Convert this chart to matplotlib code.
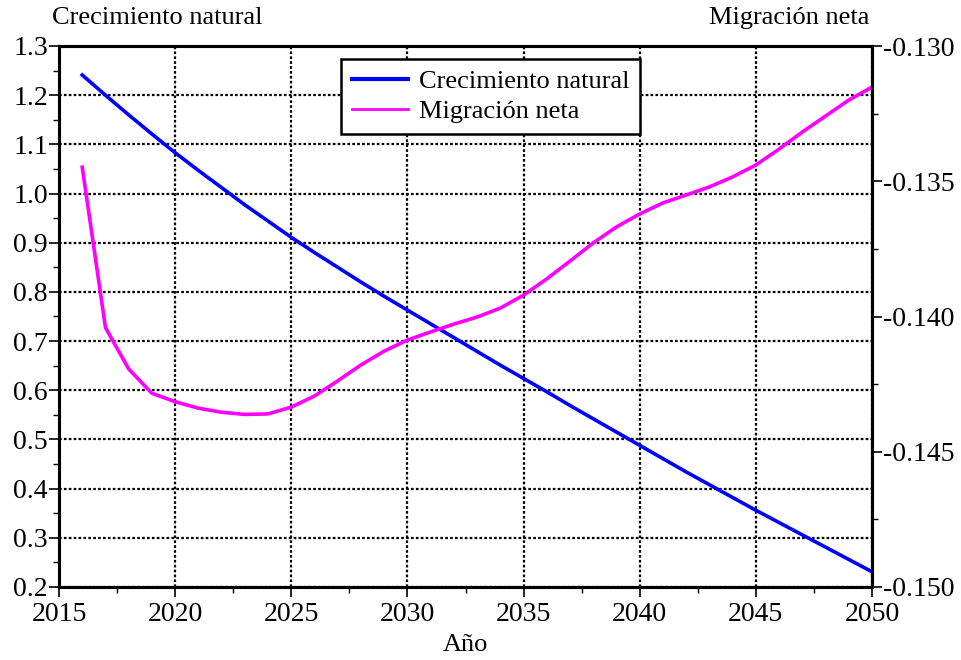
import matplotlib
matplotlib.use('Agg')
import matplotlib.pyplot as plt
from matplotlib.ticker import MultipleLocator, FormatStrFormatter

plt.rcParams['font.family'] = 'Liberation Serif'
plt.rcParams['axes.unicode_minus'] = False

# datos
years = list(range(2016, 2051))
crecimiento = [1.241, 1.200, 1.160, 1.121, 1.083, 1.047, 1.012, 0.977, 0.944, 0.911,
               0.880, 0.850, 0.820, 0.791, 0.763, 0.735, 0.707, 0.679, 0.651, 0.624,
               0.597, 0.569, 0.542, 0.515, 0.488, 0.461, 0.434, 0.408, 0.382, 0.356,
               0.331, 0.306, 0.281, 0.256, 0.231]
migracion = [-0.13448, -0.14041, -0.14194, -0.14284, -0.14315, -0.14339, -0.14354, -0.14362,
             -0.14360, -0.14335, -0.14294, -0.14238, -0.14179, -0.14128, -0.14087, -0.14057,
             -0.14028, -0.14002, -0.13969, -0.13921, -0.13861, -0.13795, -0.13728, -0.13669,
             -0.13621, -0.13580, -0.13551, -0.13521, -0.13484, -0.13440, -0.13381, -0.13318,
             -0.13259, -0.13200, -0.13152]

FS = 19
TS = 20

fig = plt.figure(figsize=(9.61, 6.60), dpi=100)
ax = fig.add_axes([59/961, 1-587/660, (872-59)/961, (587-46)/660])
ax2 = ax.twinx()

l1, = ax.plot(years, crecimiento, color='#0000ff', lw=2.6, label='Crecimiento natural')
l2, = ax2.plot(years, migracion, color='#ff00ff', lw=2.6, label='Migración neta')

ax.set_xlim(2015, 2050)
ax.set_ylim(0.2, 1.3)
ax2.set_ylim(-0.150, -0.130)

ax.xaxis.set_major_locator(MultipleLocator(5))
ax.xaxis.set_minor_locator(MultipleLocator(2.5))
ax.yaxis.set_major_locator(MultipleLocator(0.1))
ax.yaxis.set_minor_locator(MultipleLocator(0.05))
ax.yaxis.set_major_formatter(FormatStrFormatter('%.1f'))
ax2.yaxis.set_major_locator(MultipleLocator(0.005))
ax2.yaxis.set_minor_locator(MultipleLocator(0.0025))
ax2.yaxis.set_major_formatter(FormatStrFormatter('%.3f'))

for a in (ax, ax2):
    a.tick_params(which='major', direction='out', length=7, width=1.2, labelsize=TS, pad=1, color='black')
    a.tick_params(which='minor', direction='out', length=4, width=1.0)
    for s in a.spines.values():
        s.set_linewidth(2.2)
ax.tick_params(axis='x', which='major', pad=4)

ax.grid(True, which='major', color='black', linestyle=(0, (1.2, 1.0)), linewidth=1.6)
ax.set_axisbelow(True)

ax.set_xlabel('Año', fontsize=FS, labelpad=5)

fig.text(52/961, 1-18/660, 'Crecimiento natural', fontsize=FS, ha='left', va='center')
fig.text(869/961, 1-18/660, 'Migración neta', fontsize=FS, ha='right', va='center')

leg = ax2.legend([l1, l2], ['Crecimiento natural', 'Migración neta'],
                 loc='upper left', bbox_to_anchor=((341-59)/813, 1-(59-46)/541),
                 fontsize=FS, fancybox=False, framealpha=1, edgecolor='black',
                 handlelength=2.15, handletextpad=0.4, borderpad=0.4, labelspacing=0.25,
                 borderaxespad=0)
leg.get_frame().set_linewidth(1.8)
leg.get_lines()[0].set_linewidth(3)
leg.get_lines()[1].set_linewidth(2)

fig.savefig('out.png', dpi=100, facecolor='white')
